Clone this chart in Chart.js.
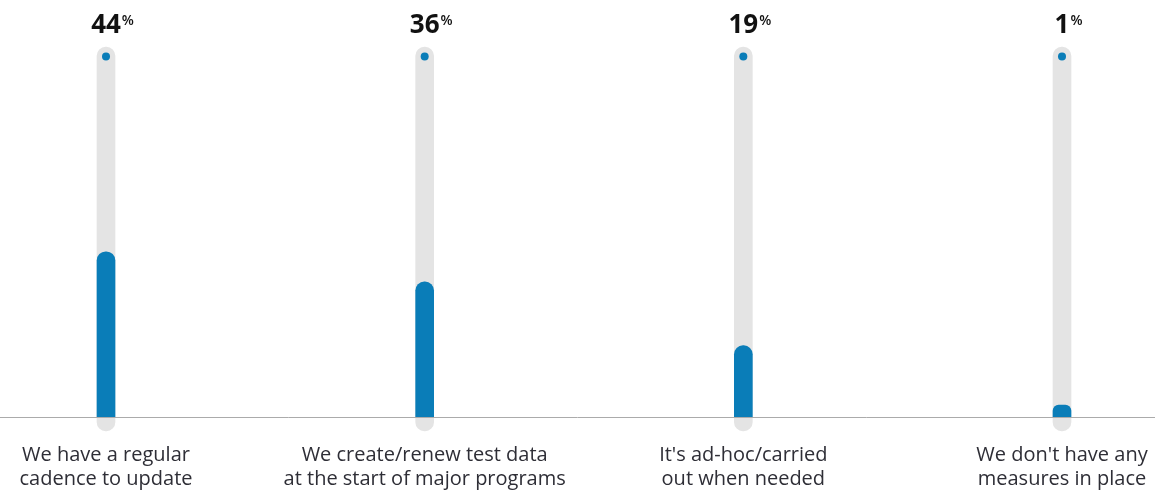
<!DOCTYPE html>
<html>
<head>
<meta charset="utf-8">
<script src="https://cdn.jsdelivr.net/npm/chart.js@4.4.0/dist/chart.umd.min.js"></script>
<style>
  html, body { margin: 0; padding: 0; background: #fff; overflow: hidden; }
  #wrap { width: 1155px; height: 493px; position: relative; }
</style>
</head>
<body>
<div id="wrap"><canvas id="myChart"></canvas></div>
<script>
const categories = [
    ['We have a regular', 'cadence to update'],
    ['We create/renew test data', 'at the start of major programs'],
    ["It's ad-hoc/carried", 'out when needed'],
    ["We don't have any", 'measures in place']
];
const values = [44, 36, 19, 1];
const trackRange = [-3.7, 98.5];   // grey rail behind each bar
const markerValue = 96;            // little blue dot at the top of the rail

const blue = '#0a7db8';
const grey = '#e4e4e4';
const fontFamily = '"Open Sans", "Noto Sans", sans-serif';

// baseline across the whole width at y = 0
const baseline = {
    id: 'baseline',
    afterDatasetsDraw(chart) {
        const {ctx, scales: {y}} = chart;
        const py = Math.round(y.getPixelForValue(0)) + 0.5;
        ctx.save();
        ctx.strokeStyle = '#ababab';
        ctx.lineWidth = 1;
        ctx.beginPath();
        ctx.moveTo(0, py);
        ctx.lineTo(chart.width, py);
        ctx.stroke();
        ctx.restore();
    }
};

// big percentages on top of each rail
const topLabels = {
    id: 'topLabels',
    afterDatasetsDraw(chart) {
        const {ctx, scales: {x}} = chart;
        ctx.save();
        ctx.fillStyle = '#111';
        values.forEach((v, i) => {
            const cx = x.getPixelForValue(i);
            ctx.font = 'bold 26px ' + fontFamily;
            ctx.textAlign = 'center';
            ctx.textBaseline = 'alphabetic';
            ctx.fillText(String(v), cx, 33);
            const w = ctx.measureText(String(v)).width;
            ctx.font = '600 14px ' + fontFamily;
            ctx.textAlign = 'left';
            ctx.fillText('%', cx + w / 2 + 1, 25);
        });
        ctx.restore();
    }
};

new Chart('myChart', {
    type: 'bar',
    data: {
        datasets: [
            {
                label: 'track',
                data: categories.map((c, i) => ({x: i, y: trackRange})),
                backgroundColor: grey,
                barThickness: 18,
                borderRadius: 9,
                borderSkipped: false,
                grouped: false,
                order: 3
            },
            {
                label: 'value',
                data: values.map((v, i) => ({x: i, y: v})),
                backgroundColor: blue,
                barThickness: 18,
                borderRadius: 9,
                minBarLength: 12,
                grouped: false,
                order: 2
            },
            {
                type: 'scatter',
                label: 'marker',
                data: categories.map((c, i) => ({x: i, y: markerValue})),
                backgroundColor: blue,
                borderWidth: 0,
                pointRadius: 4,
                order: 1
            }
        ]
    },
    options: {
        responsive: true,
        maintainAspectRatio: false,
        animation: false,
        layout: {padding: {top: 4, left: 0, right: 0, bottom: -9}},
        plugins: {
            legend: {display: false},
            tooltip: {enabled: false}
        },
        scales: {
            x: {
                type: 'linear',
                offset: false,
                min: -0.3201,
                max: 3.2793,
                grid: {display: false, drawTicks: false},
                border: {display: false},
                afterBuildTicks: (scale) => {
                    scale.ticks = categories.map((c, i) => ({value: i}));
                },
                afterFit: (scale) => {
                    // labels fit inside the canvas, no extra side padding
                    scale.paddingLeft = 0;
                    scale.paddingRight = 0;
                },
                ticks: {
                    autoSkip: false,
                    maxRotation: 0,
                    padding: 11,
                    color: '#2e2e36',
                    font: {family: fontFamily, size: 20, lineHeight: 1.2},
                    callback: (v) => categories[v] || ''
                }
            },
            y: {
                display: false,
                min: -4,
                max: 110
            }
        }
    },
    plugins: [baseline, topLabels]
});
</script>
</body>
</html>
